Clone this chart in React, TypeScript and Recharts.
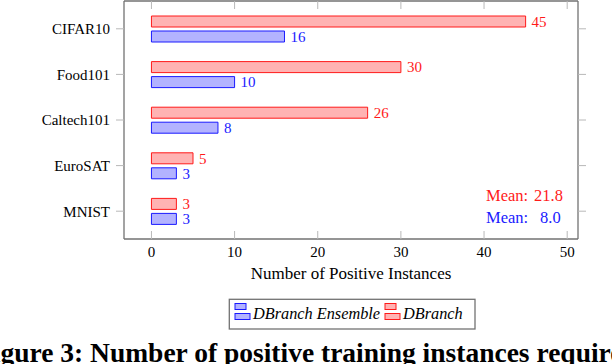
import React from 'react';
import { BarChart, Bar, XAxis, YAxis, LabelList } from 'recharts';

const categories = ['CIFAR10', 'Food101', 'Caltech101', 'EuroSAT', 'MNIST'];
const dbranch = [45, 30, 26, 5, 3];
const ensemble = [16, 10, 8, 3, 3];
const xTicks = [0, 10, 20, 30, 40, 50];
const seriesNames = { ensemble: 'DBranch Ensemble', dbranch: 'DBranch' };
const xAxisTitle = 'Number of Positive Instances';
const caption = 'Figure 3: Number of positive training instances required';

const data = categories.map((name, i) => ({ name, dbranch: dbranch[i], ensemble: ensemble[i] }));
const mean = (a: number[]) => a.reduce((s, v) => s + v, 0) / a.length;

const FONT = "'Liberation Serif', 'Times New Roman', serif";
const FRAME = '#727272';
const TICK = '#b8b8b8';
const RED = '#ff1a1a';
const RED_FILL = '#ffb3b3';
const BLUE = '#1a1aff';
const BLUE_FILL = '#b3b3ff';

const BottomTick = (props: any) => {
  const { x, y, payload } = props;
  return (
    <g>
      <line x1={x} x2={x} y1={y - 7} y2={y - 15} stroke={TICK} strokeWidth={1} />
      <text x={x} y={y} dy="0.71em" textAnchor="middle" fill="#000" fontSize={15} style={{ fontFamily: FONT }}>
        {payload.value}
      </text>
    </g>
  );
};

const LeftTick = (props: any) => {
  const { x, y, payload } = props;
  return (
    <text x={x} y={y} dy="0.355em" textAnchor="end" fill="#000" fontSize={15} style={{ fontFamily: FONT }}>
      {payload.value}
    </text>
  );
};

const TopTick = (props: any) => {
  const { x, y } = props;
  return (
    <g>
      <line x1={x} x2={x} y1={y} y2={y + 8} stroke={TICK} strokeWidth={1} />
    </g>
  );
};

const EmptyTick = () => <g />;

const ValueLabel = (color: string) => (props: any) => {
  const { x, y, width, height, value } = props;
  return (
    <text x={x + width + 6} y={y + height / 2} dy="0.355em" fill={color} fontSize={15} style={{ fontFamily: FONT }}>
      {value}
    </text>
  );
};

const AxisTitle = (props: any) => {
  const { viewBox } = props;
  return (
    <text x={viewBox.x + viewBox.width / 2} y={viewBox.y + viewBox.height - 5} textAnchor="middle" fill="#000" fontSize={17} style={{ fontFamily: FONT }}>
      {xAxisTitle}
    </text>
  );
};

const LegendIcon = ({ x, y, stroke, fill }: { x: number; y: number; stroke: string; fill: string }) => (
  <g>
    <rect x={x} y={y} width={11} height={6} fill={fill} stroke={stroke} strokeWidth={1} />
    <rect x={x} y={y + 10} width={15} height={6} fill={fill} stroke={stroke} strokeWidth={1} />
  </g>
);

export default function App() {
  const mD = mean(dbranch).toFixed(1);
  const mE = mean(ensemble).toFixed(1);
  return (
    <div style={{ position: 'absolute', left: 0, top: 0, width: 612, height: 364, background: '#fff', overflow: 'hidden', fontFamily: FONT }}>
      <BarChart
        width={612}
        height={364}
        data={data}
        layout="vertical"
        margin={{ top: 0, right: 24, bottom: 80, left: 64 }}
        barSize={11}
        barGap={4}
        style={{ fontFamily: FONT }}
      >
        <XAxis
          type="number"
          domain={[-3.3, 51.3]}
          allowDataOverflow
          ticks={xTicks}
          height={45}
          tickSize={0}
          tickMargin={7}
          tickLine={false}
          axisLine={{ stroke: FRAME, strokeWidth: 1.3 }}
          tick={<BottomTick />}
          label={<AxisTitle />}
        />
        <XAxis
          xAxisId="top"
          orientation="top"
          type="number"
          domain={[-3.3, 51.3]}
          allowDataOverflow
          ticks={xTicks}
          height={1}
          tickSize={0}
          tickMargin={0}
          tickLine={false}
          axisLine={{ stroke: FRAME, strokeWidth: 1.3 }}
          tick={<TopTick />}
        />
        <YAxis
          type="category"
          dataKey="name"
          width={60}
          padding={{ top: 5, bottom: 5 }}
          tickSize={8}
          tickMargin={6}
          tickLine={{ stroke: TICK }}
          axisLine={{ stroke: FRAME, strokeWidth: 1.3 }}
          tick={<LeftTick />}
        />
        <YAxis
          yAxisId="right"
          orientation="right"
          type="category"
          dataKey="name"
          width={10}
          padding={{ top: 5, bottom: 5 }}
          tickSize={8}
          tickLine={{ stroke: TICK }}
          axisLine={{ stroke: FRAME, strokeWidth: 1.3 }}
          tick={<EmptyTick />}
        />
        <Bar dataKey="dbranch" name={seriesNames.dbranch} fill={RED_FILL} stroke={RED} strokeWidth={1} isAnimationActive={false}>
          <LabelList dataKey="dbranch" content={ValueLabel(RED)} />
        </Bar>
        <Bar dataKey="ensemble" name={seriesNames.ensemble} fill={BLUE_FILL} stroke={BLUE} strokeWidth={1} isAnimationActive={false}>
          <LabelList dataKey="ensemble" content={ValueLabel(BLUE)} />
        </Bar>
      </BarChart>
      <svg width={612} height={364} style={{ position: 'absolute', left: 0, top: 0, pointerEvents: 'none', fontFamily: FONT }}>
        <g fontSize={16.5}>
          <text x={486} y={201} fill={RED}>Mean:</text>
          <text x={534} y={201} fill={RED}>{mD}</text>
          <text x={486} y={222.7} fill={BLUE}>Mean:</text>
          <text x={540} y={222.7} fill={BLUE}>{mE}</text>
        </g>
        <rect x={229.3} y={299.3} width={245.7} height={29.7} fill="#fff" stroke={FRAME} strokeWidth={1.3} />
        <LegendIcon x={235} y={303.5} stroke={BLUE} fill={BLUE_FILL} />
        <text x={253} y={318.5} fontStyle="italic" fontSize={16.3} fill="#000">{seriesNames.ensemble}</text>
        <LegendIcon x={385} y={303.5} stroke={RED} fill={RED_FILL} />
        <text x={403} y={318.5} fontStyle="italic" fontSize={16.3} fill="#000">{seriesNames.dbranch}</text>
        <text x={-24} y={362} fontWeight="bold" fontSize={27.5} fill="#000">{caption}</text>
      </svg>
    </div>
  );
}
